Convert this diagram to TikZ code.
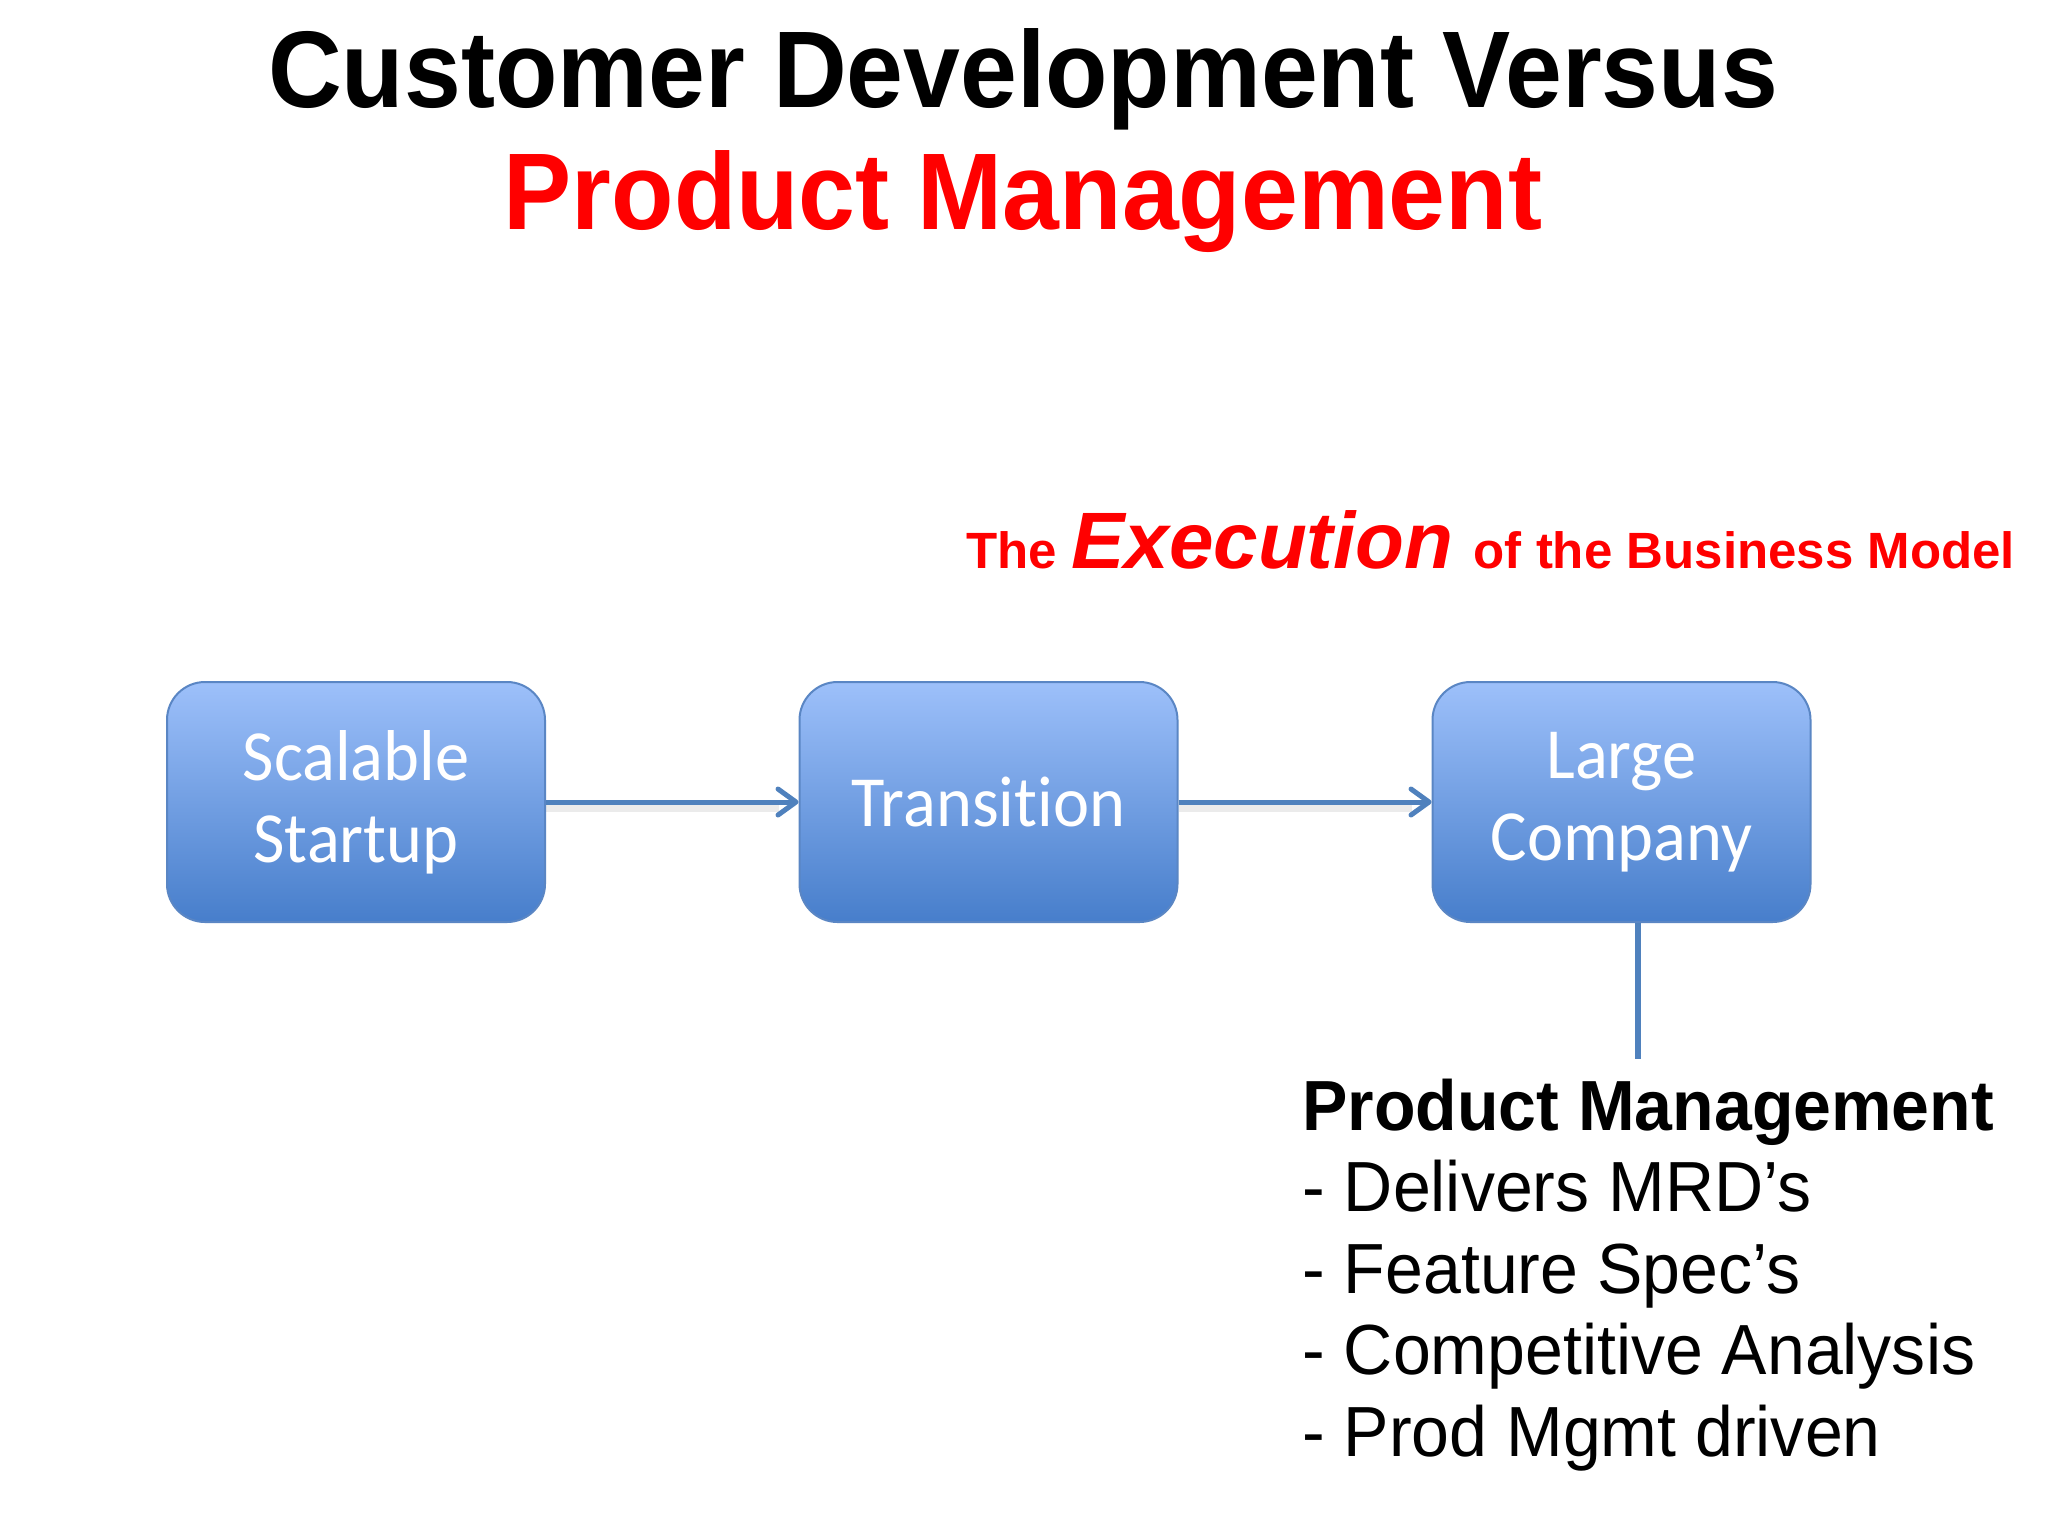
\documentclass[tikz,border=0pt]{standalone}
\usepackage{fontspec}
\setmainfont{Liberation Sans}
\newfontfamily\titlefont[FakeStretch=0.937]{Liberation Sans}
\newfontfamily\listfont[FakeStretch=0.958]{Liberation Sans}
\newfontfamily\calibri[Ligatures=NoCommon,FakeStretch=0.95]{Carlito}
\usetikzlibrary{arrows.meta}
\definecolor{boxtop}{HTML}{9DC0FA}
\definecolor{boxbot}{HTML}{477ECB}
\definecolor{boxline}{HTML}{5A86C4}
\definecolor{linkblue}{HTML}{4F81BD}
\definecolor{titlered}{HTML}{FF0000}
\tikzset{
  stagebox/.style={rounded corners=19pt, top color=boxtop, bottom color=boxbot, draw=boxline, line width=1pt,
    minimum width=189pt, minimum height=120pt, inner sep=0pt, align=center, text=white,
    font=\calibri\fontsize{36}{41}\selectfont},
  flow/.style={draw=linkblue, line width=2.5pt, -{Straight Barb[length=9pt,width=13pt,line width=2.5pt,round]}},
  flowshadow/.style={draw=black, opacity=0.08, line width=4pt},
  listtext/.style={anchor=base west, inner sep=0pt, font=\listfont\fontsize{35.5}{40}\selectfont},
}
\begin{document}
\begin{tikzpicture}[x=0.5pt,y=-0.5pt]
\useasboundingbox (0,0) rectangle (2048,1536);
\fill[white] (0,0) rectangle (2048,1536);
% title
\node[anchor=base, inner sep=0pt, font=\titlefont\bfseries\fontsize{54.5}{60}\selectfont] (t1) at (1023,107) {Customer Development Versus};
\node[anchor=base, inner sep=0pt, text=titlered, font=\titlefont\bfseries\fontsize{54.5}{60}\selectfont] (t2) at (1023,229) {Product Management};
% subtitle
\node[anchor=base west, inner sep=0pt, text=titlered, font=\bfseries\fontsize{25.5}{30}\selectfont] (sub) at (966,568)
  {The {\fontsize{40}{44}\selectfont\itshape Execution}\hspace{3pt} of the Business Model};
% boxes
\node[stagebox] (b1) at (356,802) {Scalable\\Startup};
\node[stagebox] (b2) at (988.5,802) {Transition};
\node[stagebox] (b3) at (1621.5,802) {Large\\Company};
\draw[flowshadow] ([yshift=-3pt]b1.east) -- ([yshift=-3pt,xshift=-10pt]b2.west);
\draw[flowshadow] ([yshift=-3pt]b2.east) -- ([yshift=-3pt,xshift=-10pt]b3.west);
\draw[flow] (b1.east) -- (b2.west);
\draw[flow] (b2.east) -- (b3.west);
\coordinate (lineend) at (1638,1059);
\draw[draw=linkblue, line width=3pt] (b3.south -| lineend) -- (lineend);
% list
\node[listtext, font=\listfont\bfseries\fontsize{35.5}{40}\selectfont] (h) at (1302,1130) {Product Management};
\node[listtext] (l1) at (1302,1211) {- Delivers MRD’s};
\node[listtext] (l2) at (1302,1293) {- Feature Spec’s};
\node[listtext] (l3) at (1302,1374) {- Competitive Analysis};
\node[listtext] (l4) at (1302,1456) {- Prod Mgmt driven};
\end{tikzpicture}
\end{document}
